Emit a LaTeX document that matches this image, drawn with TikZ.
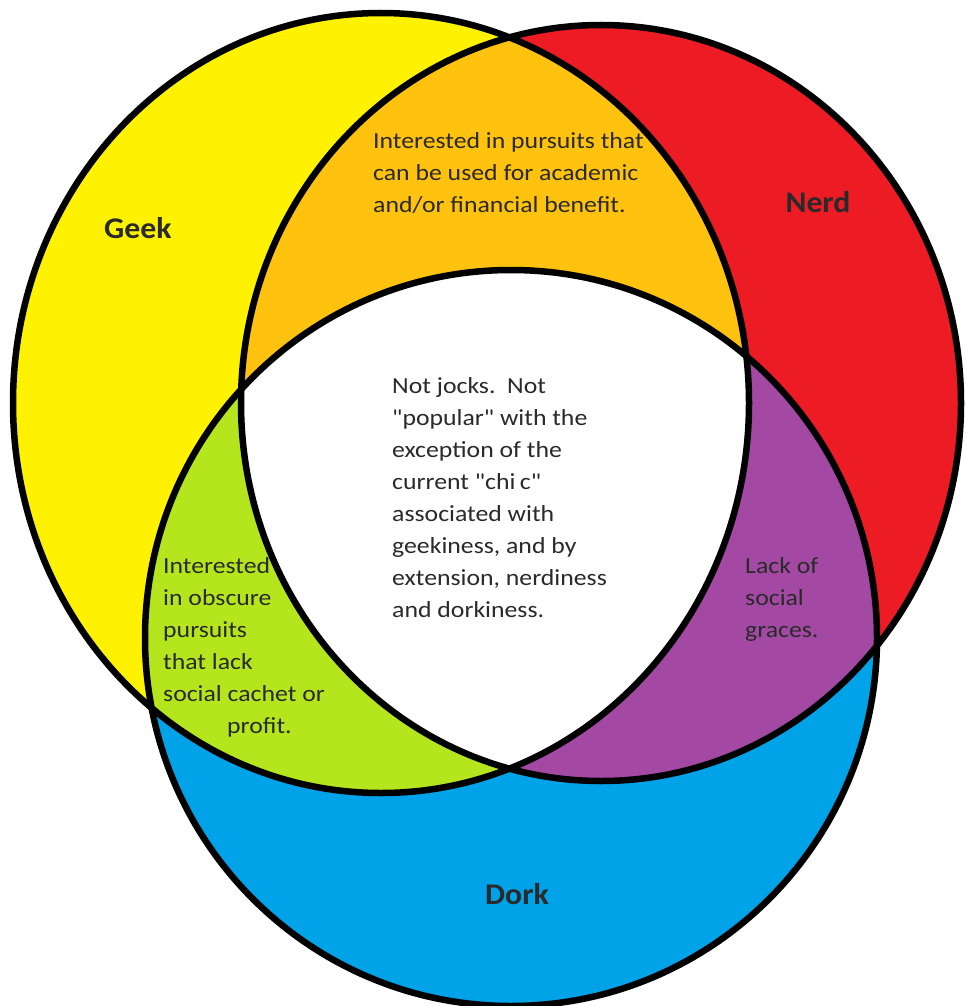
\documentclass[tikz,border=0pt]{standalone}
\usepackage{fontspec}
\setmainfont{Carlito}[Ligatures=TeXOff]
\newfontfamily\bodyfont{Carlito}[FakeStretch=1.12,Ligatures=TeXOff]
\newfontfamily\titlefont{Carlito}[FakeStretch=1.06,Ligatures=TeXOff]
\definecolor{geekY}{HTML}{FFF200}
\definecolor{nerdR}{HTML}{ED1C24}
\definecolor{dorkB}{HTML}{00A2E8}
\definecolor{gold}{HTML}{FFC20E}
\definecolor{lime}{HTML}{B5E61D}
\definecolor{purp}{HTML}{A349A4}
\definecolor{txt}{HTML}{2A2A2A}
\begin{document}
\begin{tikzpicture}[x=1pt,y=-1pt,
  outline/.style={draw=black,line width=6.5pt},
  body/.style={text=txt,font=\bodyfont\fontsize{23}{32}\selectfont,align=left,inner sep=0pt,anchor=north west},
  title/.style={text=txt,font=\titlefont\fontsize{30}{36}\selectfont\bfseries,inner sep=0pt}]
\useasboundingbox (0,0) rectangle (966,1006);
\fill[white] (0,0) rectangle (966,1006);
\def\geekpath{(381,403) ellipse [x radius=368pt, y radius=390pt]}
\def\nerdpath{(601,403) ellipse [x radius=360pt, y radius=378pt]}
\def\dorkpath{(511,638) ellipse [x radius=366pt, y radius=368pt]}
% single sets
\fill[geekY] \geekpath;
\fill[nerdR] \nerdpath;
\fill[dorkB] \dorkpath;
% pairwise
\begin{scope}\clip \geekpath; \fill[gold] \nerdpath; \end{scope}
\begin{scope}\clip \geekpath; \fill[lime] \dorkpath; \end{scope}
\begin{scope}\clip \nerdpath; \fill[purp] \dorkpath; \end{scope}
% triple
\begin{scope}\clip \geekpath; \clip \nerdpath; \fill[white] \dorkpath; \end{scope}
% outlines
\draw[outline] \geekpath;
\draw[outline] \nerdpath;
\draw[outline] \dorkpath;
% labels
\node[title] (geek) at (138,228) {Geek};
\node[title] (nerd) at (818,202) {Nerd};
\node[title] (dork) at (517,894) {Dork};
\node[body] (gn) at (373,132) {Interested in pursuits that\\can be used for academic\\and/or financial benefit.};
\node[body] (all) at (392,377) {Not jocks.\ \ Not\\"popular" with the\\exception of the\\current "chi\kern4.5pt c"\\associated with\\geekiness, and by\\extension, nerdiness\\and dorkiness.};
\node[body] (gd) at (163,557) {Interested\\in obscure\\pursuits\\that lack\\social cachet or\\\hspace*{64pt}profit.};
\node[body] (nd) at (745,557) {Lack of\\social\\graces.};
\end{tikzpicture}
\end{document}
